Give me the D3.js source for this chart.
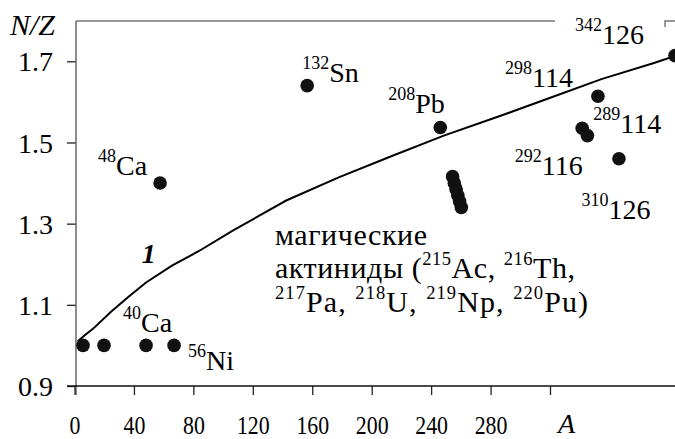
<!DOCTYPE html>
<html><head><meta charset="utf-8">
<script src="https://cdn.jsdelivr.net/npm/d3@7"></script>
</head><body style="margin:0;background:#fff">
<svg id="c" width="675" height="439" style="display:block"></svg>
<script>
// ---------- data ----------
const lineA  = [1, 5, 10, 20, 30, 40, 55, 70, 90, 120, 150, 180, 210, 240, 270, 300, 330, 342];
const lineNZ = [1.01, 1.025, 1.042, 1.083, 1.12, 1.155, 1.197, 1.232, 1.284, 1.357, 1.414, 1.466, 1.517, 1.562, 1.609, 1.656, 1.696, 1.713];

const nuclideA  = [4, 16, 40, 56, 48, 132, 208, 215, 216, 217, 218, 219, 220, 298, 289, 292, 310, 342];
const nuclideNZ = [1, 1, 1, 1, 1.4, 1.64, 1.537, 1.416, 1.4, 1.385, 1.370, 1.355, 1.340, 1.614, 1.535, 1.517, 1.460, 1.714];

const labelA      = [40, 56, 48, 132, 208, 298, 289, 292, 310, 342];
const labelMass   = ["40", "56", "48", "132", "208", "298", "289", "292", "310", "342"];
const labelSymbol = ["Ca", "Ni", "Ca", "Sn", "Pb", "114", "114", "116", "126", "126"];

const yTicks = [0.9, 1.1, 1.3, 1.5, 1.7];
const xTicks = [0, 40, 80, 120, 160, 200, 240, 280, 320];
const xTickLabels = ["0", "40", "80", "120", "160", "200", "240", "280", ""];

const actinideLines = [
  [["", "магические"]],
  [["", "актиниды ("], ["215", "Ac,\u00a0"], ["216", "Th,"]],
  [["217", "Pa,\u00a0"], ["218", "U,\u00a0"], ["219", "Np,\u00a0"], ["220", "Pu)"]]
];

// ---------- layout ----------
const labelOffset = [[-23,-13.4],[14,24.6],[-62,-8],[-5,-4],[-52,-14],[-93,-9.5],[11,5],[-72.6,39.4],[-37.4,60],[-100,-12]];
const FONT = '"Liberation Serif"';
const FS = 28, SUP = 18, RISE = 13;
const BLOCK_FS = 30, BLOCK_SUP = 18.5;
const blockX = 275, blockY = [245, 278, 312], blockWidth = [152, 300, 313];

const svg = d3.select("#c");
const x = d3.scaleLinear().domain([0, 342]).range([76, 675]);
const y = d3.scaleLinear().domain([0.9, 1.7]).range([386, 61.3]);
const xt = d3.scaleLinear().domain([0, 320]).range([74.5, 550]);

function txt(sel) { return sel.style("font-family", FONT).attr("fill", "#000"); }

// frame top
svg.append("path").attr("d", "M76,21H555M665,27V21H675")
  .attr("fill", "none").attr("stroke", "#777").attr("stroke-width", 1.5);

// y axis
const ya = svg.append("g").attr("transform", "translate(76,0)")
  .call(d3.axisLeft(y).tickValues(yTicks).tickSize(9).tickSizeOuter(0).tickPadding(14).tickFormat(d3.format(".1f")));
ya.attr("font-size", 28).attr("font-family", null).style("font-family", FONT);
ya.select(".domain").remove();
ya.selectAll(".tick line").attr("stroke", "#222").attr("stroke-width", 1.3);
txt(ya.selectAll(".tick text")).attr("dy", "0.34em");
svg.append("line").attr("x1", 76).attr("x2", 76).attr("y1", 21).attr("y2", 395)
  .attr("stroke", "#666").attr("stroke-width", 1.5);

// x axis
const xa = svg.append("g").attr("transform", "translate(0,386)")
  .call(d3.axisBottom(xt).tickValues(xTicks).tickSize(9).tickSizeOuter(0).tickFormat((d, i) => xTickLabels[i]));
xa.attr("font-size", 26).attr("font-family", null).style("font-family", FONT);
xa.select(".domain").remove();
xa.selectAll(".tick line").attr("stroke", "#222").attr("stroke-width", 1.3);
txt(xa.selectAll(".tick text")).attr("y", 48.5).attr("dy", 0).attr("transform", "scale(0.84,1)");
svg.append("line").attr("x1", 67).attr("x2", 675).attr("y1", 386).attr("y2", 386)
  .attr("stroke", "#111").attr("stroke-width", 1.5);

// axis titles
txt(svg.append("text")).attr("x", 10).attr("y", 35).attr("font-size", 30).attr("font-style", "italic").text("N/Z");
txt(svg.append("text")).attr("x", 558).attr("y", 433).attr("font-size", 28).attr("font-style", "italic").text("A");

// line 1
const lineData = lineA.map((a, i) => [a, lineNZ[i]]);
svg.append("path").datum(lineData)
  .attr("d", d3.line().x(d => x(d[0])).y(d => y(d[1])))
  .attr("fill", "none").attr("stroke", "#000").attr("stroke-width", 2);
txt(svg.append("text")).attr("x", x(37.5)).attr("y", y(1.202)).attr("font-size", 28)
  .attr("font-style", "italic").attr("font-weight", "bold").text("1");

// points
svg.selectAll("circle.n").data(nuclideA.map((a, i) => [a, nuclideNZ[i]])).join("circle")
  .attr("class", "n").attr("cx", d => x(d[0])).attr("cy", d => y(d[1])).attr("r", 6.8).attr("fill", "#111");

// labels
labelA.forEach((a, i) => {
  const nz = nuclideNZ[nuclideA.indexOf(a)];
  const t = txt(svg.append("text")).attr("x", x(a) + labelOffset[i][0]).attr("y", y(nz) + labelOffset[i][1])
    .attr("font-size", FS);
  t.append("tspan").attr("font-size", SUP).attr("dy", -RISE).text(labelMass[i]);
  t.append("tspan").attr("dy", RISE).text(labelSymbol[i]);
});

// actinide text block
actinideLines.forEach((segs, li) => {
  const t = txt(svg.append("text")).attr("x", blockX).attr("y", blockY[li]).attr("font-size", BLOCK_FS)
    .attr("textLength", blockWidth[li]).attr("lengthAdjust", "spacing");
  segs.forEach(([sup, main]) => {
    if (sup) {
      t.append("tspan").attr("font-size", BLOCK_SUP).attr("dy", -RISE).text(sup);
      t.append("tspan").attr("dy", RISE).text(main);
    } else {
      t.append("tspan").text(main);
    }
  });
});
</script>
</body></html>
